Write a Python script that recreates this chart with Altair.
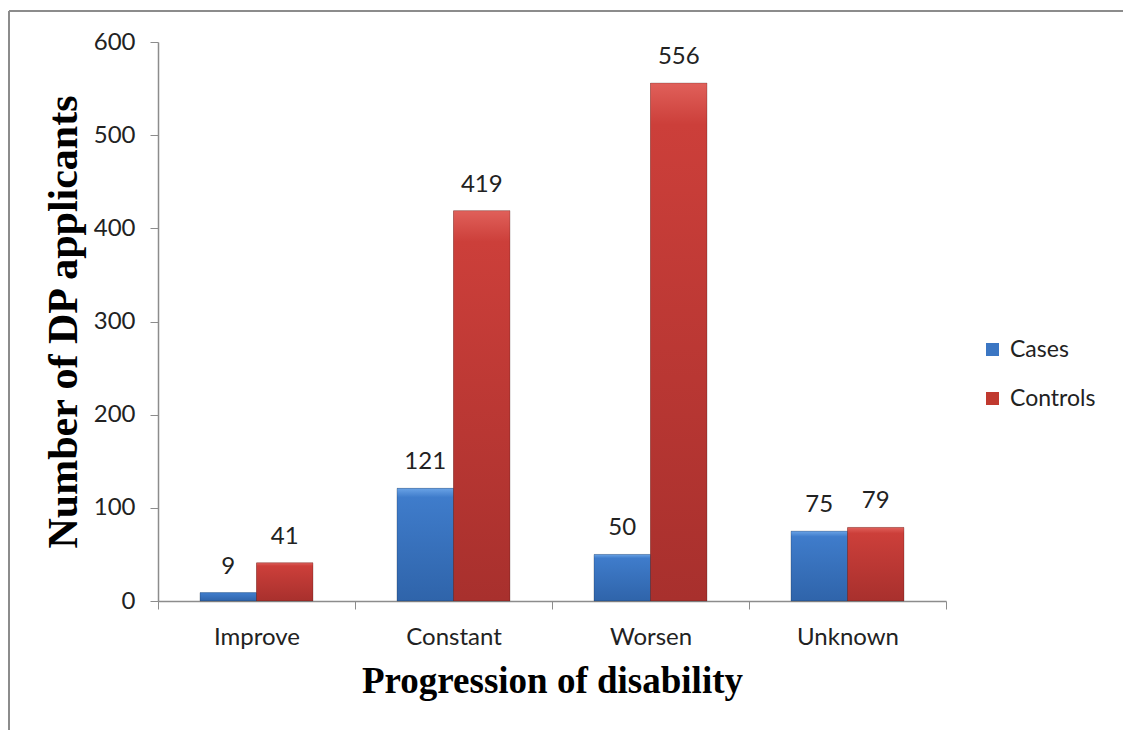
import altair as alt
import pandas as pd

# Disability-pension applicants by progression of disability
categories = ["Improve", "Constant", "Worsen", "Unknown"]
series = ["Cases", "Controls"]
cases = [9, 121, 50, 75]
controls = [41, 419, 556, 79]
y_ticks = [0, 100, 200, 300, 400, 500, 600]

rows = []
for c, a, b in zip(categories, cases, controls):
    rows.append({"category": c, "series": "Cases", "value": a})
    rows.append({"category": c, "series": "Controls", "value": b})
df = pd.DataFrame(rows)

LABEL_FONT = "Lato"
TITLE_FONT = "Liberation Serif"
base_colors = ["#3b76c3", "#c0392f"]

x_enc = alt.X(
    "category:N",
    sort=categories,
    scale=alt.Scale(paddingInner=0, paddingOuter=0),
    axis=alt.Axis(
        title="Progression of disability",
        titleFont=TITLE_FONT,
        titleFontSize=37,
        titleFontWeight="bold",
        titleColor="#000000",
        titlePadding=14,
        labelFont=LABEL_FONT,
        labelFontSize=24,
        labelColor="#222222",
        labelPadding=16,
        labelAngle=0,
        tickBand="extent",
        tickSize=8,
        tickColor="#8c8c8c",
        domainColor="#8c8c8c",
        domainWidth=1.5,
    ),
)
xoff_enc = alt.XOffset(
    "series:N", sort=series, scale=alt.Scale(paddingInner=0, paddingOuter=0.743)
)
y_enc = alt.Y(
    "value:Q",
    scale=alt.Scale(domain=[0, 600], nice=False),
    axis=alt.Axis(
        values=y_ticks,
        grid=False,
        title="Number of DP applicants",
        titleFont=TITLE_FONT,
        titleFontSize=42,
        titleFontWeight="bold",
        titleColor="#000000",
        titlePadding=8,
        labelFont=LABEL_FONT,
        labelFontSize=24,
        labelColor="#222222",
        labelPadding=15,
        tickSize=8,
        tickColor="#8c8c8c",
        domainColor="#8c8c8c",
        domainWidth=1.5,
    ),
)

# Solid bars carry the legend
legend_bars = alt.Chart(df).mark_bar().encode(
    x=x_enc,
    xOffset=xoff_enc,
    y=y_enc,
    color=alt.Color(
        "series:N",
        sort=series,
        scale=alt.Scale(domain=series, range=base_colors),
        legend=alt.Legend(
            title=None,
            orient="none",
            legendX=823,
            legendY=296,
            symbolType="square",
            symbolSize=170,
            symbolStrokeWidth=0,
            labelFont=LABEL_FONT,
            labelFontSize=23,
            labelColor="#222222",
            rowPadding=25,
            labelOffset=6,
        ),
    ),
)


def shaded(name, top, mid, bottom):
    grad = alt.Gradient(
        gradient="linear",
        x1=0, y1=0, x2=0, y2=1,
        stops=[
            alt.GradientStop(offset=0, color=top),
            alt.GradientStop(offset=0.08, color=mid),
            alt.GradientStop(offset=1, color=bottom),
        ],
    )
    return (
        alt.Chart(df)
        .transform_filter(alt.datum.series == name)
        .mark_bar(fill=grad, stroke="#00000033", strokeWidth=1)
        .encode(x=x_enc, xOffset=xoff_enc, y=y_enc)
    )


blue_bars = shaded("Cases", "#6aa3e6", "#3f7ccb", "#2f64aa")
red_bars = shaded("Controls", "#e0605a", "#cc3f3a", "#a8302d")

labels = alt.Chart(df).mark_text(
    baseline="bottom", dy=-14, font=LABEL_FONT, fontSize=24, color="#222222"
).encode(x=x_enc, xOffset=xoff_enc, y=y_enc, text=alt.Text("value:Q"))

# Outer frame edges (left and top) of the chart
one = pd.DataFrame({"k": [0]})
frame_left = alt.Chart(one).mark_rule(color="#8c8c8c", strokeWidth=2).encode(
    x=alt.value(-149), y=alt.value(-31), y2=alt.value(1000)
)
frame_top = alt.Chart(one).mark_rule(color="#8c8c8c", strokeWidth=2).encode(
    x=alt.value(-149), x2=alt.value(1300), y=alt.value(-31)
)

chart = (
    alt.layer(frame_left, frame_top, legend_bars, blue_bars, red_bars, labels)
    .properties(
        width=788,
        height=559,
        autosize=alt.AutoSizeParams(type="none"),
        padding={"left": 158, "top": 42, "right": 177, "bottom": 129},
        background="#ffffff",
    )
    .configure_view(stroke=None)
)

chart.save("out.html", embed_options={"renderer": "svg", "actions": False})
